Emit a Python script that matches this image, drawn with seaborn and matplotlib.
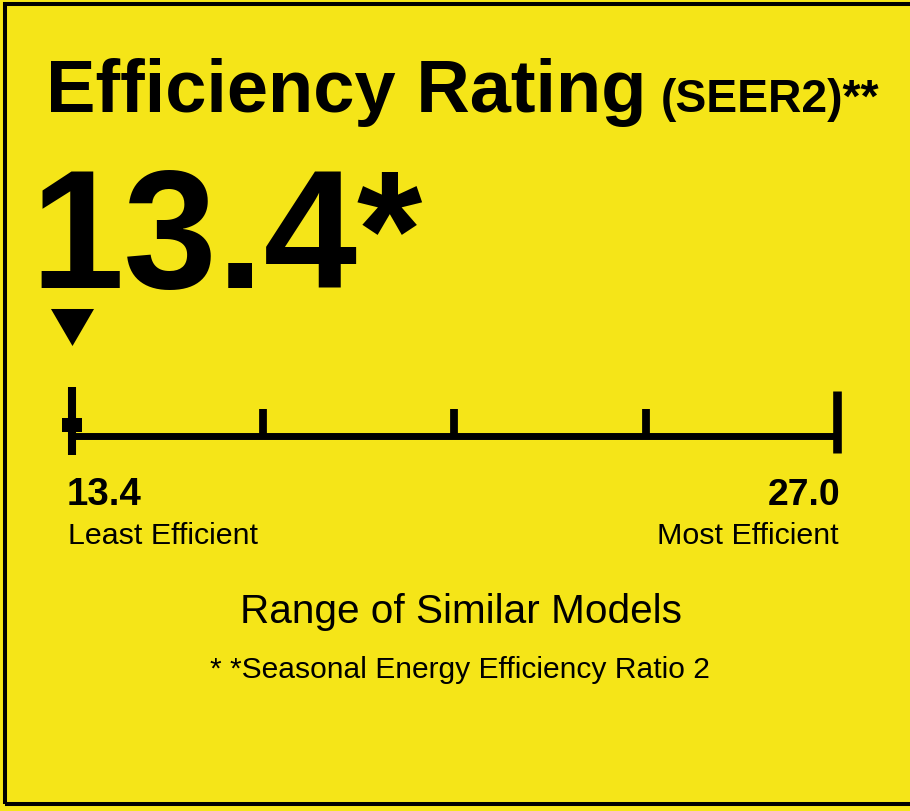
#!/usr/bin/env python3

# Imports:
import matplotlib

matplotlib.use("Agg")
import matplotlib.pyplot as plt
import seaborn as sns
from matplotlib import font_manager
from matplotlib.patches import Rectangle

# Label content:
title_text = "Efficiency Rating"
unit_text = "(SEER2)**"
rating = 13.4
scale_min = 13.4
scale_max = 27.0
scale_ticks = [13.4, 16.8, 20.2, 23.6, 27.0]
end_labels = ["Least Efficient", "Most Efficient"]
caption_text = "Range of Similar Models"
footnote_text = "* *Seasonal Energy Efficiency Ratio 2"

FIG_W, FIG_H = 910, 811
DPI = 100
YELLOW = "#F5E518"
INK = "#000000"


def fx(x):
    """Pixel x (from left) to figure fraction."""
    return x / FIG_W


def fy(y):
    """Pixel y (from top) to figure fraction."""
    return 1 - y / FIG_H


def pick_narrow():
    """
    Use the narrow Liberation face for the condensed headings when it is
    installed, otherwise shrink the regular face a bit.
    """
    names = {f.name for f in font_manager.fontManager.ttflist}
    if "Liberation Sans Narrow" in names:
        return "Liberation Sans Narrow", 1.0
    return "Liberation Sans", 0.84


def draw_scale(fig):
    """
    The draw_scale function:
        Draws the range bar with its ticks, the marker for the current
        rating and the end labels, in an axes whose x axis is the SEER2
        range.
    """
    ax = fig.add_axes([fx(72), fy(460), fx(837) - fx(72), 160 / FIG_H])
    ax.set_xlim(scale_min, scale_max)
    ax.set_ylim(-24, 136)
    ax.axis("off")
    ax.patch.set_alpha(0)

    sns.lineplot(
        x=[scale_min, scale_max],
        y=[0, 0],
        color=INK,
        linewidth=5,
        solid_capstyle="butt",
        ax=ax,
        legend=False,
    )
    ax.vlines(scale_ticks[1:-1], 0, 27, color=INK, linewidth=5.6,
              capstyle="butt")
    ax.vlines([scale_ticks[0]], -19, 49, color=INK, linewidth=5.8,
              capstyle="butt", clip_on=False)
    ax.vlines([scale_ticks[-1]], -17, 45, color=INK, linewidth=6.2,
              capstyle="butt", clip_on=False)

    block = [(-1, -0.7), (1, -0.7), (1, 0.7), (-1, 0.7), (-1, -0.7)]
    ax.plot([rating], [11], marker=block, markersize=14.4, color=INK,
            markeredgewidth=0, linestyle="none", clip_on=False)
    arrow = [(-1, 0.86), (1, 0.86), (0, -0.86), (-1, 0.86)]
    ax.plot([rating], [109.5], marker=arrow, markersize=31, color=INK,
            markeredgewidth=0, linestyle="none", clip_on=False)

    narrow, k = pick_narrow()
    ax.annotate(f"{scale_min:.1f}", xy=(scale_min, 0), xytext=(-3.8, -49.7),
                textcoords="offset points", ha="left", va="baseline",
                fontsize=33 * k, fontweight="bold", family=narrow,
                color=INK)
    ax.annotate(f"{scale_max:.1f}", xy=(scale_max, 0), xytext=(2.2, -49.7),
                textcoords="offset points", ha="right", va="baseline",
                fontsize=32 * k, fontweight="bold", family=narrow,
                color=INK)
    ax.annotate(end_labels[0], xy=(scale_min, 0), xytext=(-3.2, -77.8),
                textcoords="offset points", ha="left", va="baseline",
                fontsize=21.9, color=INK)
    ax.annotate(end_labels[1], xy=(scale_max, 0), xytext=(1.0, -77.8),
                textcoords="offset points", ha="right", va="baseline",
                fontsize=21.9, color=INK)


def main():
    """
    The main function:
        Builds the label and writes it to out.png.
    """
    sns.set_theme(style="white")
    plt.rcParams["font.family"] = ["Liberation Sans", "DejaVu Sans"]
    narrow, k = pick_narrow()

    fig = plt.figure(figsize=(FIG_W / DPI, FIG_H / DPI), dpi=DPI,
                     facecolor=YELLOW)

    fig.patches.append(
        Rectangle((fx(5), fy(804)), 1.0, (804 - 4) / FIG_H, fill=False,
                  edgecolor=INK, linewidth=2.9, transform=fig.transFigure)
    )

    fig.text(fx(46), fy(112), title_text, ha="left", va="baseline",
             fontsize=63.5 * k, fontweight="bold", family=narrow, color=INK)
    fig.text(fx(661), fy(112), unit_text, ha="left", va="baseline",
             fontsize=33.3, fontweight="bold", color=INK)
    fig.text(fx(30), fy(288), f"{rating}*", ha="left", va="baseline",
             fontsize=121, fontweight="bold", color=INK)

    draw_scale(fig)

    fig.text(fx(461), fy(623), caption_text, ha="center", va="baseline",
             fontsize=29.2, color=INK)
    fig.text(fx(460), fy(678), footnote_text, ha="center", va="baseline",
             fontsize=21.6, color=INK)

    fig.savefig("out.png", dpi=DPI, facecolor=YELLOW)


if __name__ == "__main__":
    main()
